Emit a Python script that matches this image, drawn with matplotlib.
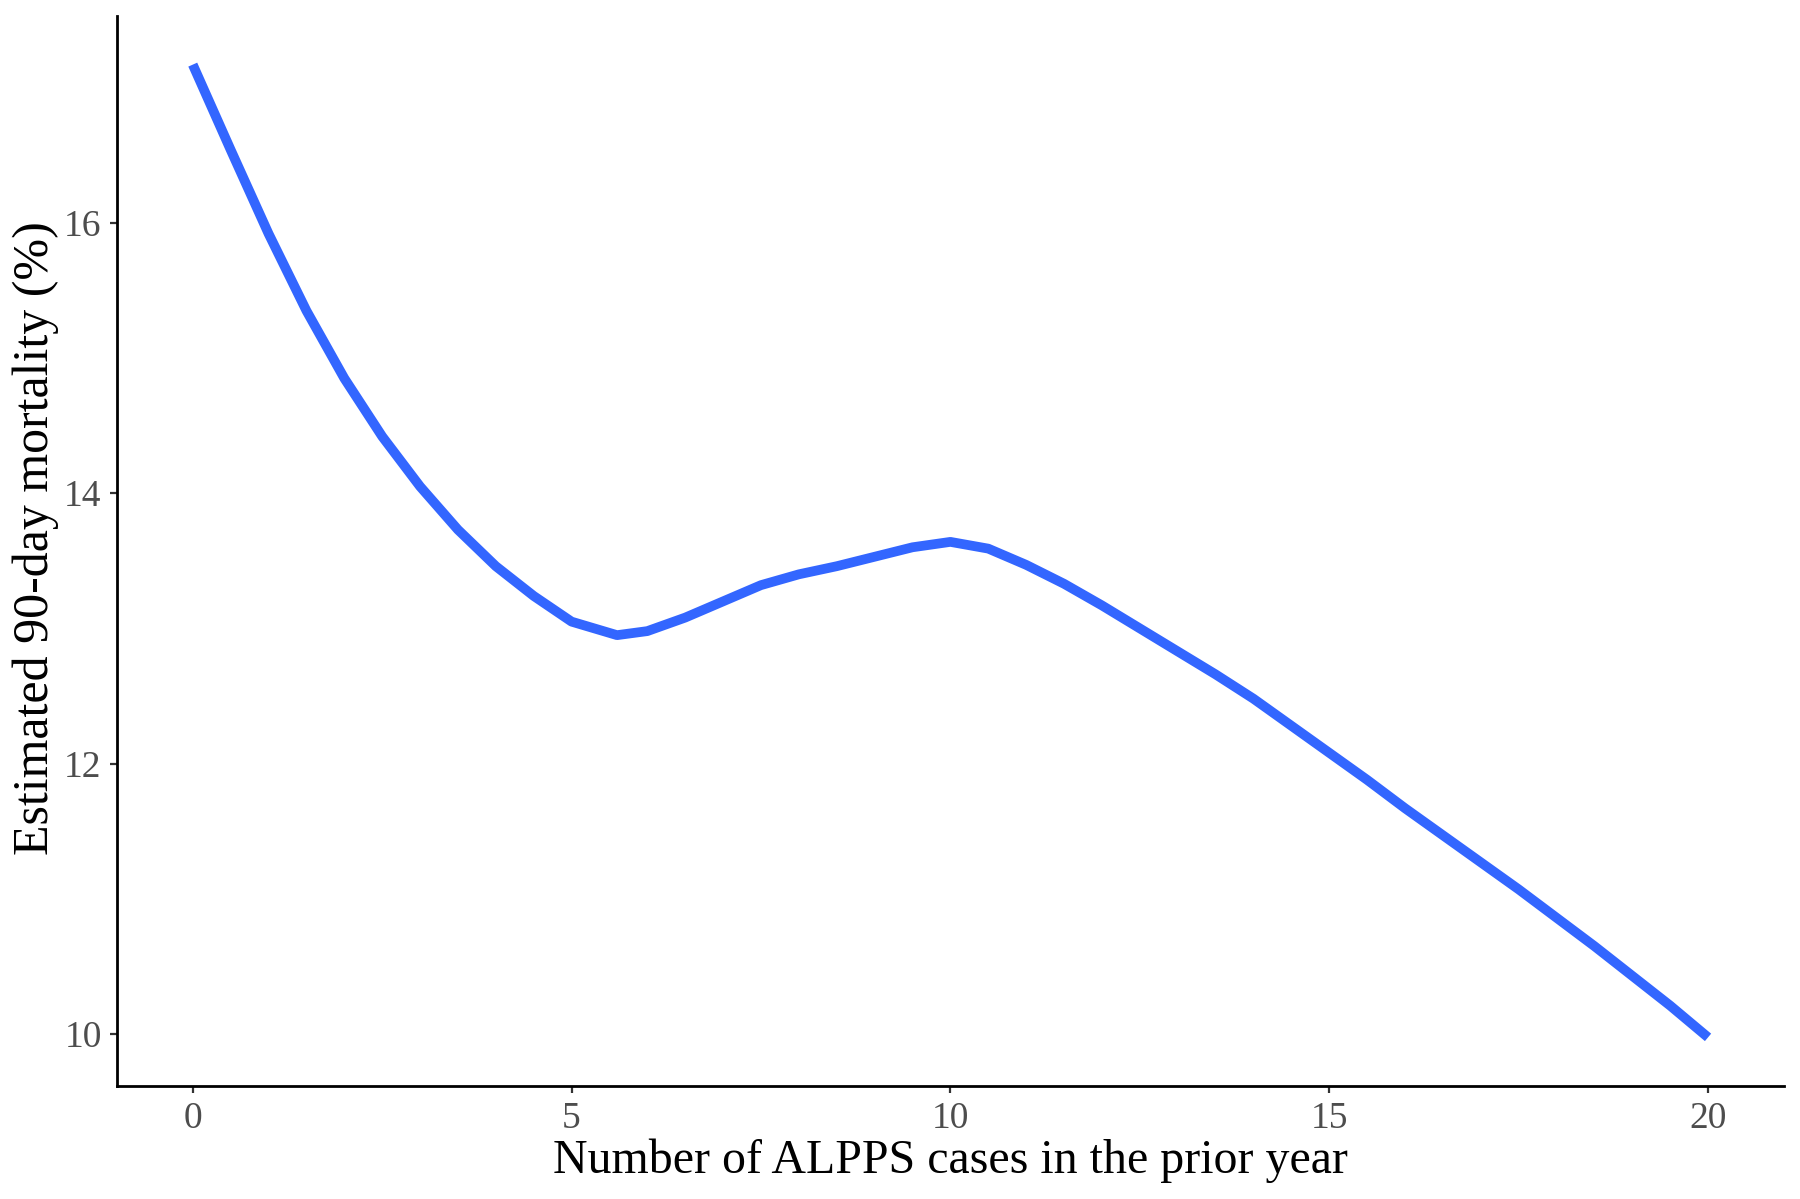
import numpy as np
import matplotlib
matplotlib.use("Agg")
import matplotlib.pyplot as plt

# values
cases = [0, 0.5, 1, 1.5, 2, 2.5, 3, 3.5, 4, 4.5, 5, 5.6, 6, 6.5, 7, 7.5, 8, 8.5,
         9, 9.5, 10, 10.5, 11, 11.5, 12, 12.5, 13, 13.5, 14, 14.5, 15, 15.5,
         16, 16.5, 17, 17.5, 18, 18.5, 19, 19.5, 20]
mortality = [17.17, 16.54, 15.92, 15.35, 14.85, 14.42, 14.05, 13.73, 13.46,
             13.24, 13.05, 12.95, 12.98, 13.08, 13.20, 13.32, 13.40, 13.46,
             13.53, 13.60, 13.64, 13.59, 13.47, 13.33, 13.17, 13.00, 12.83,
             12.66, 12.48, 12.28, 12.08, 11.88, 11.67, 11.47, 11.27, 11.07,
             10.86, 10.65, 10.43, 10.21, 9.975]

x_ticks = [0, 5, 10, 15, 20]
y_ticks = [10, 12, 14, 16]

plt.rcParams['font.family'] = ['Liberation Serif', 'DejaVu Serif']

fig = plt.figure(figsize=(18, 11.99), dpi=100)
ax = fig.add_axes([0.065, 0.0942, 0.926, 0.8925])

ax.plot(cases, mortality, color="#3366FF", lw=7.0,
        solid_capstyle="butt", solid_joinstyle="round")

ax.set_xlim(-1, 21)
ax.set_ylim(9.615, 17.53)
ax.set_xticks(x_ticks)
ax.set_yticks(y_ticks)

for side in ["top", "right"]:
    ax.spines[side].set_visible(False)
for side in ["left", "bottom"]:
    ax.spines[side].set_linewidth(2.0)
    ax.spines[side].set_color("black")

ax.tick_params(axis="both", length=5, width=1.6, color="#333333",
               labelsize=27, labelcolor="#4D4D4D", pad=6)

ax.set_xlabel("Number of ALPPS cases in the prior year", fontsize=34.5, labelpad=2)
ax.set_ylabel("Estimated 90-day mortality (%)", fontsize=36, labelpad=4)
ax.yaxis.label.set_y(0.512)

fig.savefig("out.png", dpi=100, facecolor="white")
